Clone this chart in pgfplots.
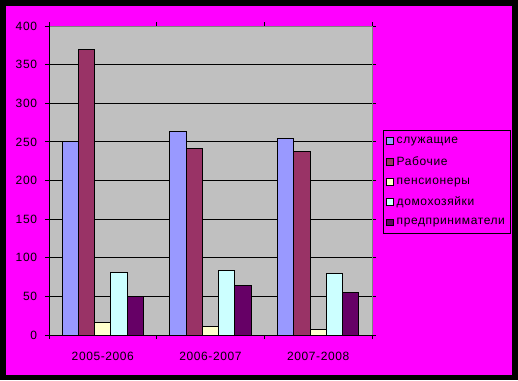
\documentclass[border=0pt]{standalone}
\usepackage{pgfplots}
\pgfplotsset{compat=1.18}
\usepackage{fontspec}
\setmainfont{Liberation Sans}[LetterSpace=5]
\definecolor{bg}{HTML}{FF00FF}
\definecolor{plotgray}{HTML}{C0C0C0}
\definecolor{frame}{HTML}{808080}
\definecolor{cA}{HTML}{9999FF}
\definecolor{cB}{HTML}{993366}
\definecolor{cC}{HTML}{FFFFCC}
\definecolor{cD}{HTML}{CCFFFF}
\definecolor{cE}{HTML}{660066}
\begin{document}
\begin{tikzpicture}
\fill[black] (0pt,0pt) rectangle (388.5pt,285pt);
\fill[bg] (4.5pt,3.75pt) rectangle (384pt,280.5pt);
\begin{axis}[
  at={(36.75pt,33.75pt)}, anchor=south west,
  scale only axis, width=242.25pt, height=231.75pt,
  xmin=-0.5, xmax=2.5, ymin=0, ymax=400,
  ybar=0pt, bar width=0.151,
  xtick={0,1,2}, xticklabels={2005-2006,2006-2007,2007-2008},
  major x tick style={draw=none},
  minor xtick={-0.5,0.5,1.5,2.5},
  ytick={0,50,...,400},
  ymajorgrids, major grid style={black, line width=0.75pt},
  axis background/.style={fill=plotgray},
  axis line style={draw=none},
  tick align=outside,
  tick style={black, line width=0.75pt},
  major tick length=3pt, minor tick length=3pt,
  /pgf/number format/assume math mode=true,
  every tick label/.append style={font=\fontsize{9}{10}\selectfont},
  yticklabel style={xshift=-2.5pt},
  xticklabel style={yshift=-6pt},
  area legend,
  legend image code/.code={\draw[#1,draw=black,line width=0.75pt] (0pt,-2.6pt) rectangle (5.2pt,2.6pt);},
  legend cell align=left,
  legend style={at={(1.034,0.665)}, anchor=north west, fill=bg, draw=black, line width=0.75pt,
    font=\fontsize{9}{10}\selectfont, row sep=3.95pt, inner xsep=2pt, inner ysep=3.4pt},
  after end axis/.code={
    \draw[frame, line width=0.75pt] (rel axis cs:0,1) -- (rel axis cs:1,1) -- (rel axis cs:1,0);
    \draw[black, line width=0.75pt] (rel axis cs:0,1) -- (rel axis cs:0,0) -- (rel axis cs:1,0);
  },
]
\addplot[fill=cA, draw=black, line width=0.75pt] coordinates {(0,250) (1,264) (2,255)};
\addplot[fill=cB, draw=black, line width=0.75pt] coordinates {(0,370) (1,242) (2,237)};
\addplot[fill=cC, draw=black, line width=0.75pt] coordinates {(0,16) (1,11) (2,7)};
\addplot[fill=cD, draw=black, line width=0.75pt] coordinates {(0,81) (1,84) (2,79)};
\addplot[fill=cE, draw=black, line width=0.75pt] coordinates {(0,50) (1,64) (2,55)};
\legend{служащие,Рабочие,пенсионеры,домохозяйки,предприниматели}
\end{axis}
\end{tikzpicture}
\end{document}
